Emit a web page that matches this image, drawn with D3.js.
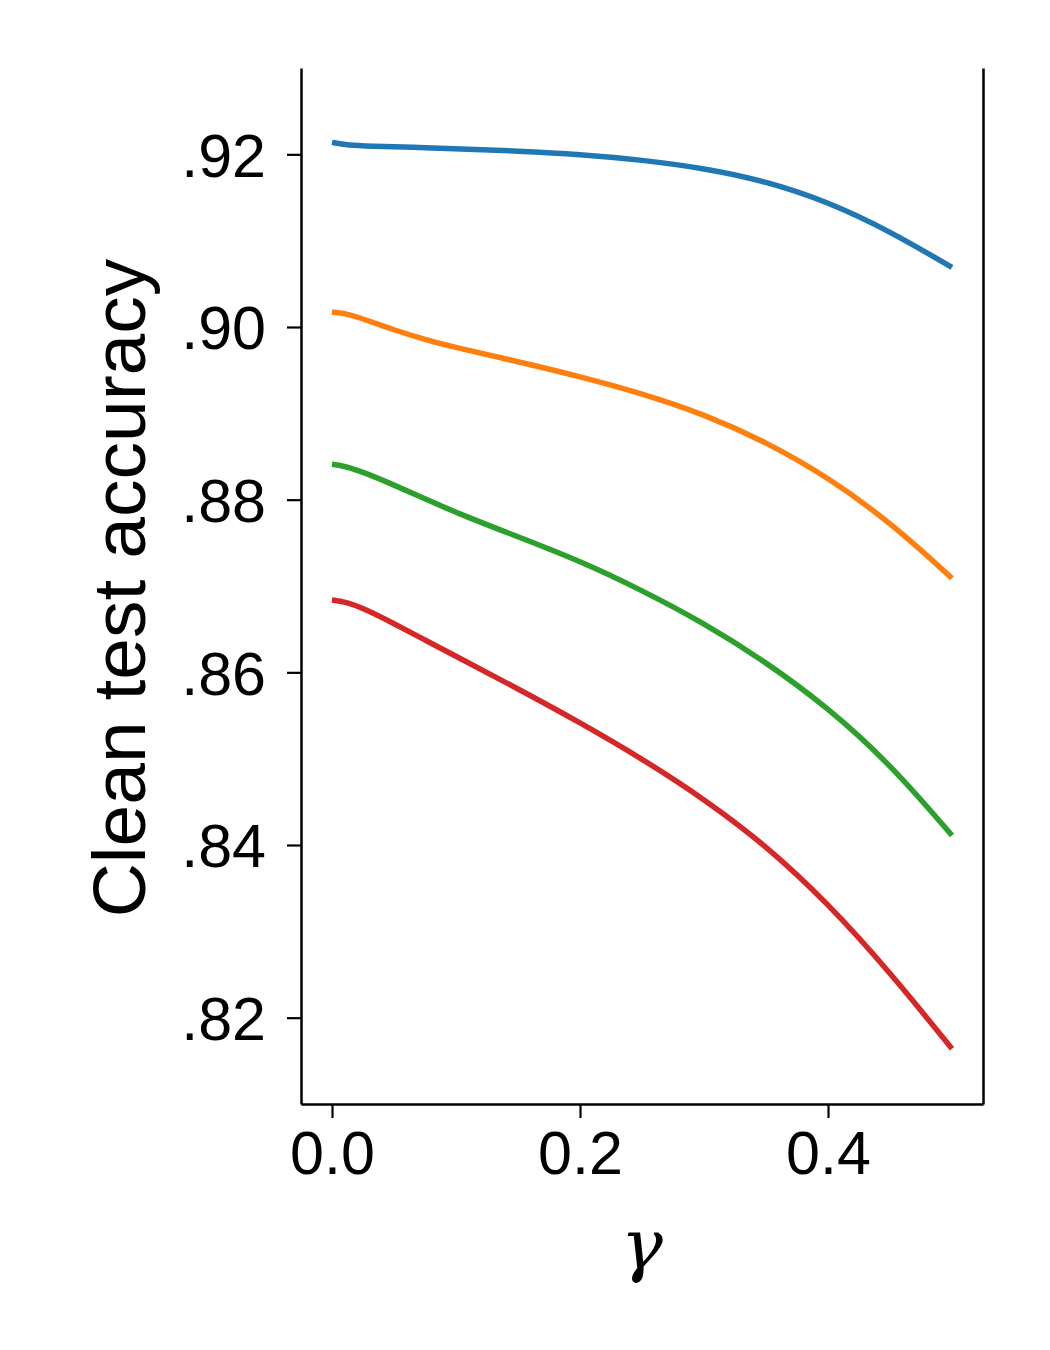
<!DOCTYPE html>
<html>
<head>
<meta charset="utf-8">
<script src="https://cdn.jsdelivr.net/npm/d3@7"></script>
<style>
  body { margin: 0; background: #fff; }
  svg text { font-family: "Liberation Sans", Arial, sans-serif; fill: #000; }
</style>
</head>
<body>
<div id="chart"></div>
<script>
// gamma values along the x axis
var gammaValues = [0, 0.01, 0.025, 0.05, 0.075, 0.1, 0.15, 0.2, 0.25, 0.3, 0.35, 0.4, 0.45, 0.5];

// clean test accuracy for each curve (top to bottom)
var accBlue   = [0.92139, 0.92110, 0.92097, 0.92087, 0.92077, 0.92066, 0.92038, 0.92000, 0.91935, 0.91840, 0.91690, 0.91450, 0.91110, 0.90690];
var accOrange = [0.90174, 0.90160, 0.90095, 0.89965, 0.89855, 0.89760, 0.89600, 0.89426, 0.89230, 0.88990, 0.88670, 0.88260, 0.87740, 0.87090];
var accGreen  = [0.88410, 0.88390, 0.88320, 0.88170, 0.88010, 0.87850, 0.87570, 0.87290, 0.86950, 0.86570, 0.86120, 0.85590, 0.84940, 0.84110];
var accRed    = [0.86838, 0.86820, 0.86745, 0.86565, 0.86375, 0.86185, 0.85810, 0.85419, 0.85000, 0.84535, 0.83995, 0.83324, 0.82525, 0.81640];

var seriesColors = ["#1f77b4", "#ff7f0e", "#2ca02c", "#d62728"];
var xTicks = [0, 0.2, 0.4];
var yTicks = [0.82, 0.84, 0.86, 0.88, 0.90, 0.92];

// Set the dimensions and margins of the graph
var margin = {top: 68, right: 67, bottom: 246, left: 301},
    width = 1050 - margin.left - margin.right,
    height = 1350 - margin.top - margin.bottom;

var svg = d3.select("#chart")
  .append("svg")
    .attr("width", 1050)
    .attr("height", 1350)
  .append("g")
    .attr("transform", "translate(" + margin.left + "," + margin.top + ")");

var x = d3.scaleLinear().domain([-0.025, 0.525]).range([0, width]);
var y = d3.scaleLinear().domain([0.81, 0.93]).range([height, 0]);

// Lines
var series = [accBlue, accOrange, accGreen, accRed];
var line = d3.line()
  .x(function(d, i) { return x(gammaValues[i]); })
  .y(function(d) { return y(d); })
  .curve(d3.curveBasis);

svg.append("g")
  .selectAll("path")
  .data(series)
  .enter()
  .append("path")
    .attr("d", line)
    .attr("fill", "none")
    .attr("stroke", function(d, i) { return seriesColors[i]; })
    .attr("stroke-width", 5.5)
    .attr("stroke-linecap", "butt");

// X axis
var xAxis = svg.append("g")
  .attr("transform", "translate(0," + height + ")")
  .call(d3.axisBottom(x).tickValues(xTicks).tickFormat(d3.format(".1f")).tickSize(14).tickSizeOuter(0).tickPadding(13));

// Y axis
var yAxis = svg.append("g")
  .call(d3.axisLeft(y).tickValues(yTicks)
    .tickFormat(function(d) { return d3.format(".2f")(d).replace(/^0/, ""); })
    .tickSize(14).tickSizeOuter(0).tickPadding(21));

// Right spine
var rAxis = svg.append("g")
  .attr("transform", "translate(" + width + ",0)")
  .call(d3.axisRight(y).tickValues([]).tickSizeOuter(0));

[xAxis, yAxis, rAxis].forEach(function(a) {
  a.select(".domain").attr("stroke", "#000").attr("stroke-width", 2.5);
  a.selectAll(".tick line").attr("stroke", "#000").attr("stroke-width", 2.2);
  a.selectAll(".tick text")
    .style("font-family", "'Liberation Sans', Arial, sans-serif")
    .style("font-size", "61px")
    .attr("fill", "#000");
});
xAxis.selectAll(".tick text").attr("dy", "0.71em");
yAxis.selectAll(".tick text").attr("dy", "0.36em");

// Axis labels
svg.append("text")
  .attr("transform", "translate(" + (145 - margin.left) + "," + (588 - margin.top) + ") rotate(-90)")
  .attr("text-anchor", "middle")
  .style("font-size", "75px")
  .text("Clean test accuracy");

svg.append("text")
  .attr("x", width / 2)
  .attr("y", 1269 - margin.top)
  .attr("text-anchor", "middle")
  .style("font-family", "'DejaVu Serif', 'Liberation Serif', serif")
  .style("font-style", "italic")
  .style("font-size", "70px")
  .text("γ");
</script>
</body>
</html>
